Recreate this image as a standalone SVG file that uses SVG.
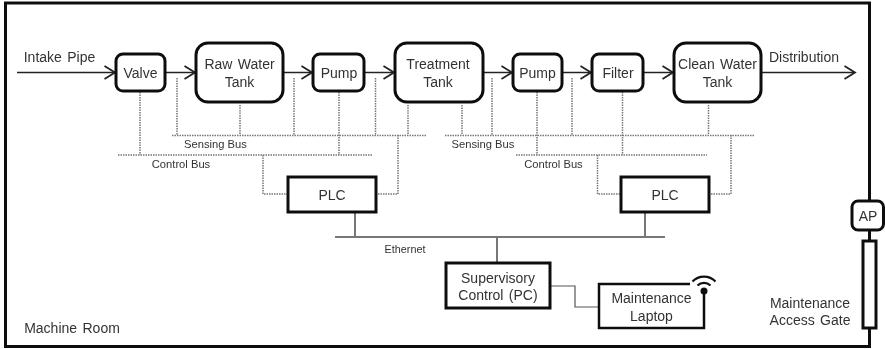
<svg xmlns="http://www.w3.org/2000/svg" width="885" height="349" viewBox="0 0 885 349">
<style>
text{font-family:"Liberation Sans",Arial,sans-serif;fill:#333;text-anchor:middle}
.t{font-size:14px;word-spacing:1.5px}
.s{font-size:11.2px}
.p{fill:#fff;stroke:#111;stroke-width:3}
.f{fill:none;stroke:#222;stroke-width:1.5}
.d{fill:none;stroke:#777;stroke-width:1.5;stroke-dasharray:1.5 1}
.e{fill:none;stroke:#777;stroke-width:2}
.w{fill:none;stroke:#555;stroke-width:1.2}
</style>
<defs>
<marker id="a" markerUnits="userSpaceOnUse" markerWidth="14" markerHeight="16" refX="11.5" refY="8" orient="auto"><path d="M1 1.5L11.5 8L1 14.5" fill="none" stroke="#222" stroke-width="1.8"/></marker>
<filter id="soft" filterUnits="userSpaceOnUse" x="0" y="0" width="885" height="349"><feGaussianBlur stdDeviation="0.4"/></filter>
</defs>
<g filter="url(#soft)">
<rect id="frame" x="5.5" y="3" width="864" height="343.5" fill="#fff" stroke="#111" stroke-width="3"/>
<g id="connectors">
<path class="f" marker-end="url(#a)" d="M17 72.500H115"/>
<path class="f" marker-end="url(#a)" d="M165 72.500H195"/>
<path class="f" marker-end="url(#a)" d="M283 72.500H312"/>
<path class="f" marker-end="url(#a)" d="M364 72.500H394"/>
<path class="f" marker-end="url(#a)" d="M483 72.500H512"/>
<path class="f" marker-end="url(#a)" d="M562 72.500H591"/>
<path class="f" marker-end="url(#a)" d="M643 72.500H673"/>
<path class="f" marker-end="url(#a)" d="M761 72.500H855"/>
<path class="d" d="M172 135.500H426M445 135.500H754M118 155H372M516 155H707"/>
<path class="d" d="M140 92V155M177 78V135M240 105V135M294 78V135M339 92V155M375.500 78V135M408 105V135M462 105V135M492 78V135M537 92V155M572 78V135M622.500 92V155M708.500 105V135"/>
<path class="d" d="M263 155V194H287M398 135V194H377M597.500 155V194H620M731 135V194H710"/>
<path class="e" d="M335 237H665M355 213V237M645 213V237M497 237V262"/>
<path class="w" d="M551 286H575V307H599"/>
</g>
<g id="valve"><rect class="p" x="116" y="54" width="49" height="37" rx="7"/><text class="t" x="140.500" y="78">Valve</text></g>
<g id="raw-water-tank"><rect class="p" x="196" y="43" width="87" height="59" rx="12"/><text class="t" x="239.500" y="69">Raw Water</text><text class="t" x="239.500" y="87">Tank</text></g>
<g id="pump-1"><rect class="p" x="313" y="54" width="51" height="37" rx="7"/><text class="t" x="339" y="78">Pump</text></g>
<g id="treatment-tank"><rect class="p" x="395" y="43" width="88" height="59" rx="12"/><text class="t" x="438" y="69">Treatment</text><text class="t" x="438" y="87">Tank</text></g>
<g id="pump-2"><rect class="p" x="513" y="54" width="49" height="37" rx="7"/><text class="t" x="537.500" y="78">Pump</text></g>
<g id="filter"><rect class="p" x="592" y="54" width="51" height="37" rx="7"/><text class="t" x="618" y="78">Filter</text></g>
<g id="clean-water-tank"><rect class="p" x="674" y="43" width="87" height="59" rx="12"/><text class="t" x="717.500" y="69">Clean Water</text><text class="t" x="717.500" y="87">Tank</text></g>
<g id="plc-1"><rect class="p" x="288" y="177" width="88" height="35"/><text class="t" x="332" y="199.500">PLC</text></g>
<g id="plc-2"><rect class="p" x="621" y="177" width="88" height="35"/><text class="t" x="665" y="199.500">PLC</text></g>
<g id="supervisory"><rect class="p" x="446" y="263" width="104" height="45"/><text class="t" x="498" y="283">Supervisory</text><text class="t" x="498" y="300">Control (PC)</text></g>
<g id="laptop"><path fill="#fff" stroke="#111" stroke-width="2.500" d="M690 284H599V328H704V292"/><text class="t" x="651.500" y="303">Maintenance</text><text class="t" x="651.500" y="321">Laptop</text>
<circle cx="704" cy="291" r="3.500" fill="#111"/><path fill="none" stroke="#111" stroke-width="2.200" d="M697.500 285.500A9.500 9.500 0 0 1 710.500 285.500M692.500 281.500A16 16 0 0 1 715.500 281.500"/></g>
<g id="ap"><rect class="p" x="852" y="201" width="31.500" height="29" rx="6"/><text class="t" x="868" y="221">AP</text></g>
<g id="gate"><rect class="p" x="863" y="241" width="13" height="87"/></g>
<g id="labels">
<text class="t" x="59.500" y="61.500">Intake Pipe</text>
<text class="t" x="804" y="61.500">Distribution</text>
<text class="s" x="215.500" y="148">Sensing Bus</text>
<text class="s" x="181" y="168">Control Bus</text>
<text class="s" x="483" y="148">Sensing Bus</text>
<text class="s" x="553.500" y="168">Control Bus</text>
<text class="s" x="405" y="253" style="font-size:10.800px">Ethernet</text>
<text class="t" x="72" y="333">Machine Room</text>
<text class="t" x="810" y="307.500">Maintenance</text>
<text class="t" x="810" y="325">Access Gate</text>
</g>
</g>
</svg>
